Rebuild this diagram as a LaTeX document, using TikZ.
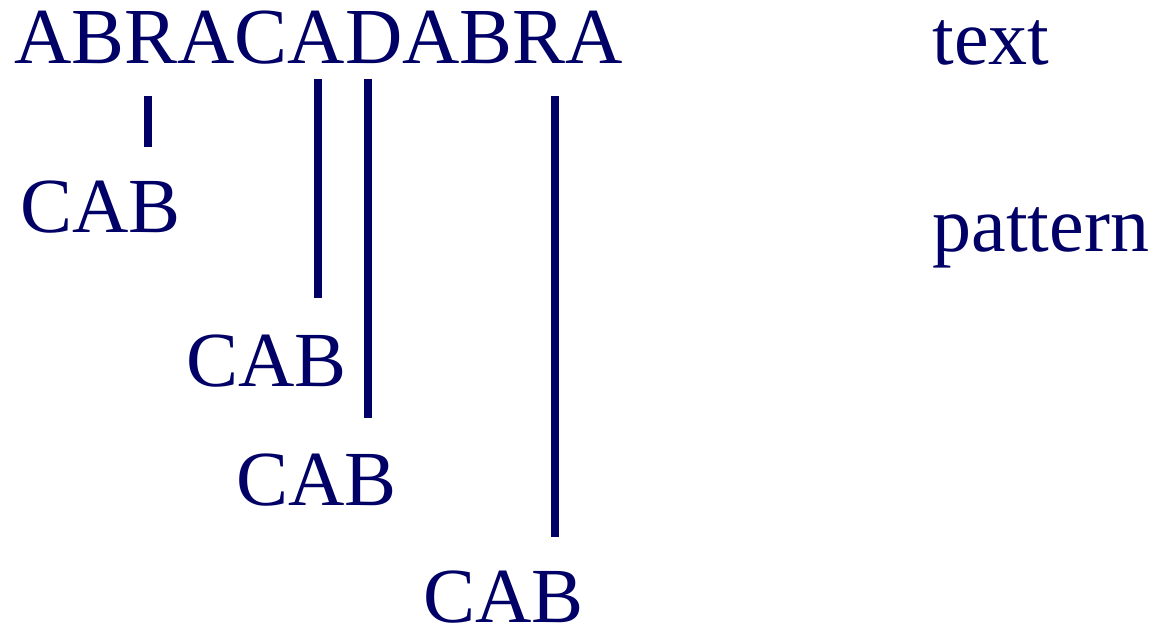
\documentclass[tikz,border=0pt]{standalone}
\usepackage{fontspec}
\setmainfont{Liberation Serif}
\usepackage{xcolor}
\definecolor{navy}{RGB}{0,0,102}

\begin{document}
\begin{tikzpicture}[x=0.5pt, y=-0.5pt,
    word/.style={anchor=base west, inner sep=0pt, text=navy,
      font=\fontsize{39}{47}\selectfont},
    shiftline/.style={draw=navy, line width=4pt}]
  \useasboundingbox (0,0) rectangle (1157,630);
  % Text and labels
  \node[word, font=\fontsize{39.7}{47}\selectfont] (txt) at (14,64) {ABRACADABRA};
  \node[word] (lbltext) at (932,65) {text};
  \node[word] (lblpat) at (932,252) {pattern};
  % Pattern at each shift
  \node[word] (cab1) at (20,233) {CAB};
  \node[word] (cab2) at (186,387) {CAB};
  \node[word] (cab3) at (236,506) {CAB};
  \node[word] (cab4) at (423,622) {CAB};
  % Shift lines
  \coordinate (top1) at (147.5,96);  \coordinate (bot1) at (147.5,147);
  \coordinate (top2) at (318,79);    \coordinate (bot2) at (318,298);
  \coordinate (top3) at (368,79);    \coordinate (bot3) at (368,418);
  \coordinate (top4) at (555,96);    \coordinate (bot4) at (555,537);
  \draw[shiftline] (top1) -- (bot1);
  \draw[shiftline] (top2) -- (bot2);
  \draw[shiftline] (top3) -- (bot3);
  \draw[shiftline] (top4) -- (bot4);
\end{tikzpicture}
\end{document}
